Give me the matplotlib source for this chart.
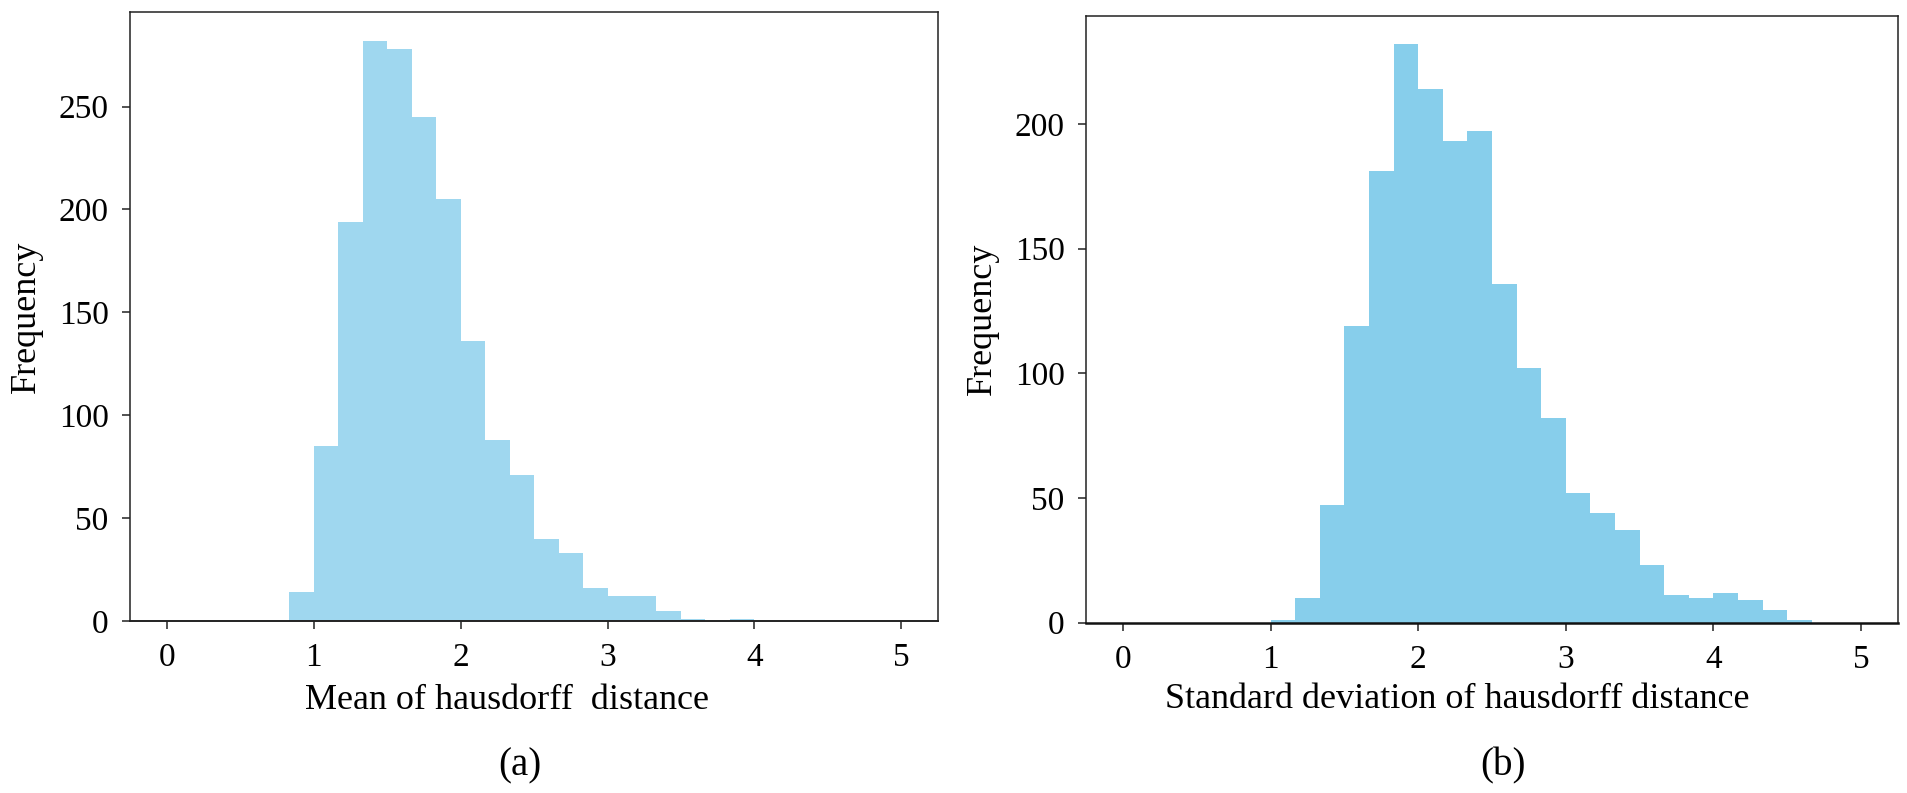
import numpy as np
import matplotlib
matplotlib.use("Agg")
import matplotlib.pyplot as plt

plt.rcParams['font.family'] = ['Liberation Serif', 'DejaVu Serif']

# 30 bins of width 1/6 over [0, 5]
bin_edges = np.linspace(0, 5, 31)

mean_counts = [0, 0, 0, 0, 0, 14, 85, 194, 282, 278,
               245, 205, 136, 88, 71, 40, 33, 16, 12, 12,
               5, 1, 0, 1, 0, 0, 0, 0, 0, 0]
std_counts = [0, 0, 0, 0, 0, 0, 1, 10, 47, 119,
              181, 232, 214, 193, 197, 136, 102, 82, 52, 44,
              37, 23, 11, 10, 12, 9, 5, 1, 0, 0]

x_ticks = [0, 1, 2, 3, 4, 5]
left_yticks = [0, 50, 100, 150, 200, 250]
right_yticks = [0, 50, 100, 150, 200]

xlabel_a = "Mean of hausdorff  distance"
xlabel_b = "Standard deviation of hausdorff distance"
ylabel = "Frequency"

fig = plt.figure(figsize=(19.07, 7.93), dpi=100)
ax1 = fig.add_axes([0.0682, 0.2169, 0.4237, 0.768])
ax2 = fig.add_axes([0.5695, 0.2150, 0.4258, 0.7654])

centers = bin_edges[:-1]
ax1.hist(centers, bins=bin_edges, weights=mean_counts, color='skyblue', alpha=0.8)
ax2.hist(centers, bins=bin_edges, weights=std_counts, color='skyblue', alpha=1.0)

tick_fs = 24
label_fs = 26
for ax, yt in [(ax1, left_yticks), (ax2, right_yticks)]:
    ax.set_xlim(-0.25, 5.25)
    ax.set_xticks(x_ticks)
    ax.set_yticks(yt)
    ax.tick_params(axis='both', direction='out', length=5.5, width=1.1,
                   labelsize=tick_fs, top=False, right=False, color='#222222')
    ax.tick_params(axis='x', pad=10)
    ax.tick_params(axis='y', pad=10)
    for s in ax.spines.values():
        s.set_linewidth(1.1)
        s.set_color('#222222')

ax1.set_xlabel(xlabel_a, fontsize=label_fs)
ax2.set_xlabel(xlabel_b, fontsize=label_fs)
ax1.set_ylabel(ylabel, fontsize=label_fs)
ax2.set_ylabel(ylabel, fontsize=label_fs)
ax1.xaxis.set_label_coords(0.4666, -0.104)
ax2.xaxis.set_label_coords(0.457, -0.100)
ax1.yaxis.set_label_coords(-0.108, 0.5)
ax2.yaxis.set_label_coords(-0.107, 0.5)

ax1.set_ylim(0, 296)
ax2.set_ylim(0, 243.5)
ax1.spines['bottom'].set_linewidth(1.4)
ax2.spines['bottom'].set_linewidth(1.8)
ax2.spines['bottom'].set_color('#111111')

fig.text(520 / 1907, 1 - 766 / 793, "(a)", fontsize=28, ha='center', va='center')
fig.text(1503 / 1907, 1 - 766 / 793, "(b)", fontsize=28, ha='center', va='center')

fig.savefig("out.png", dpi=100)
